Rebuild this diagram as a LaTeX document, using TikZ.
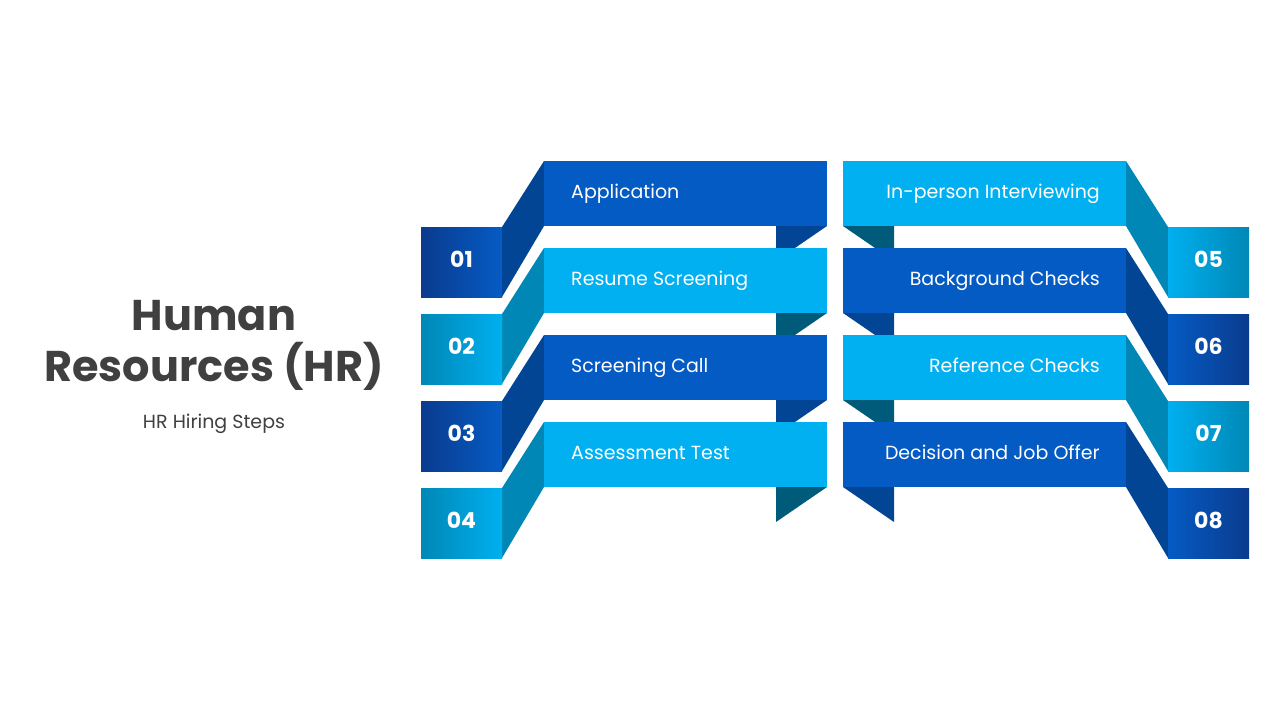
\documentclass[tikz,border=0pt]{standalone}
\usepackage{fontspec}
\setmainfont{Poppins}
\usepackage{xcolor}

\definecolor{darkband}{HTML}{055BC4}
\definecolor{darkfold}{HTML}{034595}
\definecolor{darkedge}{HTML}{0A3B8E}
\definecolor{lightband}{HTML}{00B0F0}
\definecolor{lightfold}{HTML}{0087B6}
\definecolor{lighttail}{HTML}{005A7A}
\definecolor{titlegray}{HTML}{404040}

\tikzset{
    steptext/.style={text=white, font=\fontsize{19}{22}\selectfont, inner sep=0pt},
    numtext/.style={text=white, font=\fontsize{22}{26}\selectfont\bfseries, inner sep=0pt},
}

\begin{document}
\begin{tikzpicture}[x=1pt, y=-1pt]
    \useasboundingbox (0,0) rectangle (1280,720);

    % Title
    \node[text=titlegray, font=\fontsize{43}{51}\selectfont\bfseries, align=center, anchor=base] (title) at (214,381) {Human\\Resources (HR)};
    \node[text=titlegray, font=\fontsize{19}{22}\selectfont, anchor=base] (subtitle) at (214,428) {HR Hiring Steps};

    % Left ribbons
    \foreach \i/\band/\fold/\tail/\lft/\num/\txt in {
        0/darkband/darkfold/darkfold/darkedge/01/Application,
        1/lightband/lightfold/lighttail/lightfold/02/Resume Screening,
        2/darkband/darkfold/darkfold/darkedge/03/Screening Call,
        3/lightband/lightfold/lighttail/lightfold/04/Assessment Test} {
        \pgfmathsetmacro\y{161+87*\i}
        \fill[\tail] (776,\y+65) -- (827,\y+65) -- (776,\y+100) -- cycle;
        \fill[\fold] (544,\y) -- (502,\y+66) -- (502,\y+136) -- (544,\y+65) -- cycle;
        \shade[left color=\lft, right color=\band] (421,\y+66) rectangle (502,\y+136);
        \fill[\band] (544,\y) rectangle (827,\y+65);
        \node[steptext, anchor=base west] (s\num) at (571,\y+37.5) {\txt};
        \node[numtext] (n\num) at (461.5,\y+98) {\num};
    }

    % Right ribbons
    \foreach \i/\band/\fold/\tail/\rgt/\num/\txt in {
        0/lightband/lightfold/lighttail/lightfold/05/In-person Interviewing,
        1/darkband/darkfold/darkfold/darkedge/06/Background Checks,
        2/lightband/lightfold/lighttail/lightfold/07/Reference Checks,
        3/darkband/darkfold/darkfold/darkedge/08/Decision and Job Offer} {
        \pgfmathsetmacro\y{161+87*\i}
        \fill[\tail] (843,\y+65) -- (894,\y+65) -- (894,\y+100) -- cycle;
        \fill[\fold] (1126,\y) -- (1168,\y+66) -- (1168,\y+136) -- (1126,\y+65) -- cycle;
        \shade[left color=\band, right color=\rgt] (1168,\y+66) rectangle (1249,\y+136);
        \fill[\band] (843,\y) rectangle (1126,\y+65);
        \node[steptext, anchor=base east] (s\num) at (1100,\y+37.5) {\txt};
        \node[numtext] (n\num) at (1208.5,\y+98) {\num};
    }
\end{tikzpicture}
\end{document}
